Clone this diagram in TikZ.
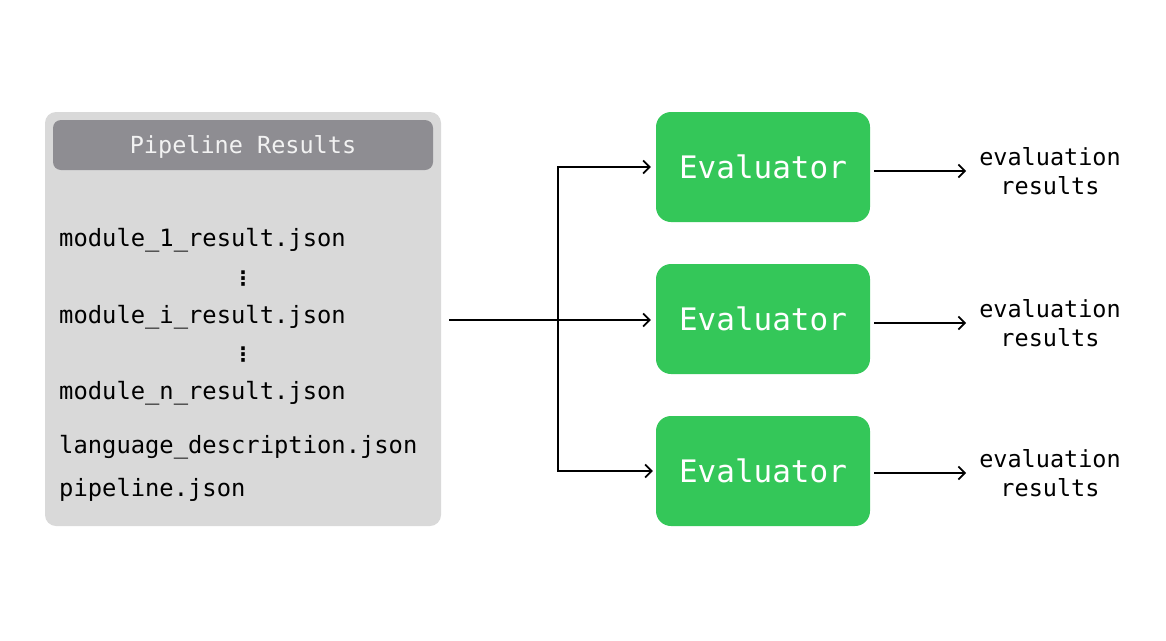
\documentclass[tikz,border=0pt]{standalone}
\usepackage{fontspec}
\usepackage{tikz}
\usetikzlibrary{arrows.meta}
\newfontfamily\codefont{DejaVu Sans Mono}
\newfontfamily\symfont{DejaVu Sans}
\definecolor{boxgray}{HTML}{D9D9D9}
\definecolor{headgray}{HTML}{8E8D92}
\definecolor{evalgreen}{HTML}{34C759}

\begin{document}
\begin{tikzpicture}[x=1pt,y=-1pt]
	 \tikzstyle{container} = [draw=none,fill=boxgray,rounded corners=11pt,minimum width=396pt,minimum height=414pt,inner sep=0pt]
	 \tikzstyle{header} = [fill=headgray,rounded corners=8pt,minimum width=380pt,minimum height=50pt,inner sep=0pt,text=white!95!black,font=\codefont\fontsize{23.5}{27}\selectfont]
	 \tikzstyle{file} = [anchor=west,inner sep=0pt,font=\codefont\fontsize{23.8}{27}\selectfont]
	 \tikzstyle{dots} = [inner sep=0pt,font=\symfont\bfseries\fontsize{20}{22}\selectfont]
	 \tikzstyle{evaluator} = [fill=evalgreen,rounded corners=15pt,minimum width=214pt,minimum height=110pt,inner sep=0pt,text=white,font=\codefont\fontsize{31}{35}\selectfont]
	 \tikzstyle{output} = [align=center,inner sep=0pt,font=\codefont\fontsize{23.5}{29}\selectfont]
	 \tikzstyle{link} = [draw,line width=1.7pt,-{Straight Barb[length=6.5pt,width=13pt,line width=1.7pt]}]
	 \useasboundingbox (0,0) rectangle (1166,640);
	 \node[container] (results) at (243,319) {};
	 \node[header] (title) at (243,145) {};
	 \node[inner sep=0pt,text=white!95!black,font=\codefont\fontsize{23.5}{27}\selectfont] (titletext) at (243,147) {Pipeline Results};
	 \node[file] (f1) at (59,240) {module\_1\_result.json};
	 \node[dots] (dots1) at (243,279) {⋮};
	 \node[file] (fi) at (59,317) {module\_i\_result.json};
	 \node[dots] (dots2) at (243,355) {⋮};
	 \node[file] (fn) at (59,393) {module\_n\_result.json};
	 \node[file] (lang) at (59,447) {language\_description.json};
	 \node[file] (pipe) at (59,490) {pipeline.json};
	 \node[evaluator] (ev1) at (763,167) {Evaluator};
	 \node[evaluator] (ev2) at (763,319) {Evaluator};
	 \node[evaluator] (ev3) at (763,471) {Evaluator};
	 \node[output] (out1) at (1050,171) {evaluation\\results};
	 \node[output] (out2) at (1050,323) {evaluation\\results};
	 \node[output] (out3) at (1050,473) {evaluation\\results};
	 \coordinate (split) at (558,320);
	 \draw[link,shorten <=8pt,shorten >=5pt] (results.east |- split) -- (ev2.west |- split);
	 \draw[link,shorten >=5pt] (split) |- (ev1.west);
	 \draw[link,shorten >=3pt] (split) |- (ev3.west);
	 \draw[link,shorten <=4pt,shorten >=13pt] (ev1.east |- out1) -- (out1.west);
	 \draw[link,shorten <=4pt,shorten >=13pt] (ev2.east |- out2) -- (out2.west);
	 \draw[link,shorten <=4pt,shorten >=13pt] (ev3.east |- out3) -- (out3.west);
	\end{tikzpicture}
\end{document}
